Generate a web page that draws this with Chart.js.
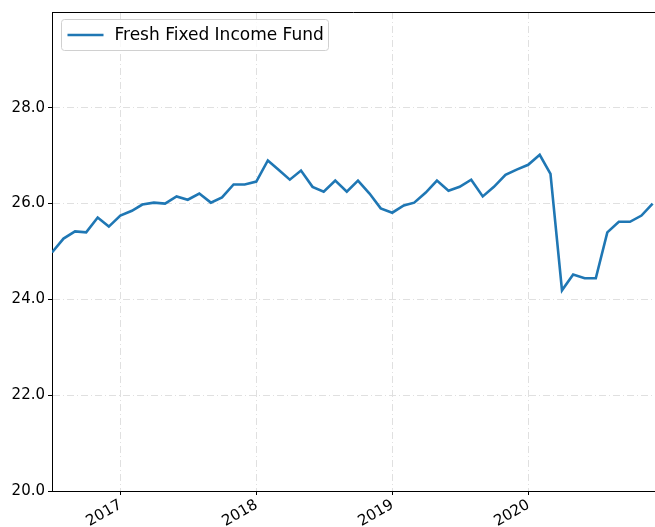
<!DOCTYPE html>
<html>
<head>
<meta charset="utf-8">
<script src="https://cdn.jsdelivr.net/npm/chart.js@4/dist/chart.umd.min.js"></script>
<style>
  html, body { margin: 0; padding: 0; background: #fff; overflow: hidden; }
  #wrap { width: 655px; height: 527px; }
</style>
</head>
<body>
<div id="wrap"><canvas id="fundChart" width="655" height="527"></canvas></div>
<script>
// Month-end dates and fund values
var months = [
  '2016-06-30','2016-07-31','2016-08-31','2016-09-30','2016-10-31','2016-11-30','2016-12-31',
  '2017-01-31','2017-02-28','2017-03-31','2017-04-30','2017-05-31','2017-06-30','2017-07-31',
  '2017-08-31','2017-09-30','2017-10-31','2017-11-30','2017-12-31','2018-01-31','2018-02-28',
  '2018-03-31','2018-04-30','2018-05-31','2018-06-30','2018-07-31','2018-08-31','2018-09-30',
  '2018-10-31','2018-11-30','2018-12-31','2019-01-31','2019-02-28','2019-03-31','2019-04-30',
  '2019-05-31','2019-06-30','2019-07-31','2019-08-31','2019-09-30','2019-10-31','2019-11-30',
  '2019-12-31','2020-01-31','2020-02-29','2020-03-31','2020-04-30','2020-05-31','2020-06-30',
  '2020-07-31','2020-08-31','2020-09-30','2020-10-31','2020-11-30'
];
var fundValues = [
  24.98, 25.27, 25.42, 25.40, 25.71, 25.52, 25.75, 25.85, 25.98, 26.02, 26.00, 26.15, 26.08, 26.21,
  26.02, 26.13, 26.40, 26.40, 26.46, 26.90, 26.71, 26.50, 26.69, 26.35, 26.25, 26.48, 26.25, 26.48,
  26.21, 25.90, 25.81, 25.96, 26.02, 26.23, 26.48, 26.27, 26.35, 26.50, 26.15, 26.35, 26.60, 26.71,
  26.81, 27.02, 26.62, 24.19, 24.52, 24.44, 24.44, 25.40, 25.62, 25.62, 25.75, 26.00
];
var seriesName = 'Fresh Fixed Income Fund';
var yearTicks = [2017, 2018, 2019, 2020];
var yTicks = [20, 22, 24, 26, 28];

// turn a date string into a decimal year for the linear x scale
function toDecimalYear(s) {
  var d = new Date(s + 'T00:00:00Z');
  var y = d.getUTCFullYear();
  var start = Date.UTC(y, 0, 1), end = Date.UTC(y + 1, 0, 1);
  return y + (d.getTime() - start) / (end - start);
}

var points = months.map(function(m, i) {
  return { x: toDecimalYear(m), y: fundValues[i] };
});

var FONT = 'DejaVu Sans, Arial, sans-serif';

// draw top spine and the legend box inside the plot
var framePlugin = {
  id: 'frame',
  afterDraw: function(chart) {
    var ctx = chart.ctx, a = chart.chartArea;
    ctx.save();
    ctx.strokeStyle = '#000';
    ctx.lineWidth = 1;
    ctx.beginPath();
    ctx.moveTo(a.left, a.top + 0.5);
    ctx.lineTo(a.right, a.top + 0.5);
    ctx.stroke();

    // legend
    var ds = chart.data.datasets[0];
    var bx = a.left + 9.5, by = a.top + 7.5, bw = 267, bh = 31;
    ctx.fillStyle = 'rgba(255,255,255,0.8)';
    ctx.strokeStyle = '#d0d0d0';
    ctx.beginPath();
    ctx.roundRect(bx, by, bw, bh, 3);
    ctx.fill();
    ctx.stroke();
    ctx.strokeStyle = ds.borderColor;
    ctx.lineWidth = 2.6;
    ctx.beginPath();
    ctx.moveTo(bx + 6, by + bh / 2);
    ctx.lineTo(bx + 42, by + bh / 2);
    ctx.stroke();
    ctx.fillStyle = '#000';
    ctx.font = '17px ' + FONT;
    ctx.textBaseline = 'middle';
    ctx.fillText(ds.label, bx + 53, by + bh / 2 + 1);
    ctx.restore();
  }
};

var gridOpts = {
  color: '#e0e0e0',
  tickColor: '#000',
  tickBorderDash: [],
  tickLength: 4
};

var ctx = document.getElementById('fundChart').getContext('2d');
var fundChart = new Chart(ctx, {
  type: 'line',
  data: {
    datasets: [{
      label: seriesName,
      data: points,
      borderColor: '#1f77b4',
      borderWidth: 2.6,
      pointRadius: 0,
      tension: 0,
      fill: false
    }]
  },
  options: {
    responsive: false,
    animation: false,
    layout: { padding: { top: 11, right: 0, left: 0, bottom: 0 } },
    plugins: {
      legend: { display: false },
      tooltip: { enabled: false }
    },
    scales: {
      x: {
        type: 'linear',
        min: toDecimalYear(months[0]),
        max: 2020.93,
        afterBuildTicks: function(scale) {
          scale.ticks = yearTicks.map(function(v) { return { value: v }; });
        },
        afterFit: function(scale) { scale.height = 36; },
        ticks: {
          color: '#000',
          font: { family: FONT, size: 15 },
          minRotation: 30,
          maxRotation: 30,
          padding: 1,
          callback: function(v) { return String(v); }
        },
        grid: gridOpts,
        border: { display: true, color: '#000', width: 1, dash: [7, 3, 1, 3] }
      },
      y: {
        min: 20,
        max: 30,
        afterBuildTicks: function(scale) {
          scale.ticks = yTicks.map(function(v) { return { value: v }; });
        },
        afterFit: function(scale) { scale.width = 52; },
        ticks: {
          color: '#000',
          font: { family: FONT, size: 15 },
          padding: 3,
          callback: function(v) { return v.toFixed(1); }
        },
        grid: gridOpts,
        border: { display: true, color: '#000', width: 1, dash: [7, 3, 1, 3] }
      }
    }
  },
  plugins: [framePlugin]
});
</script>
</body>
</html>
